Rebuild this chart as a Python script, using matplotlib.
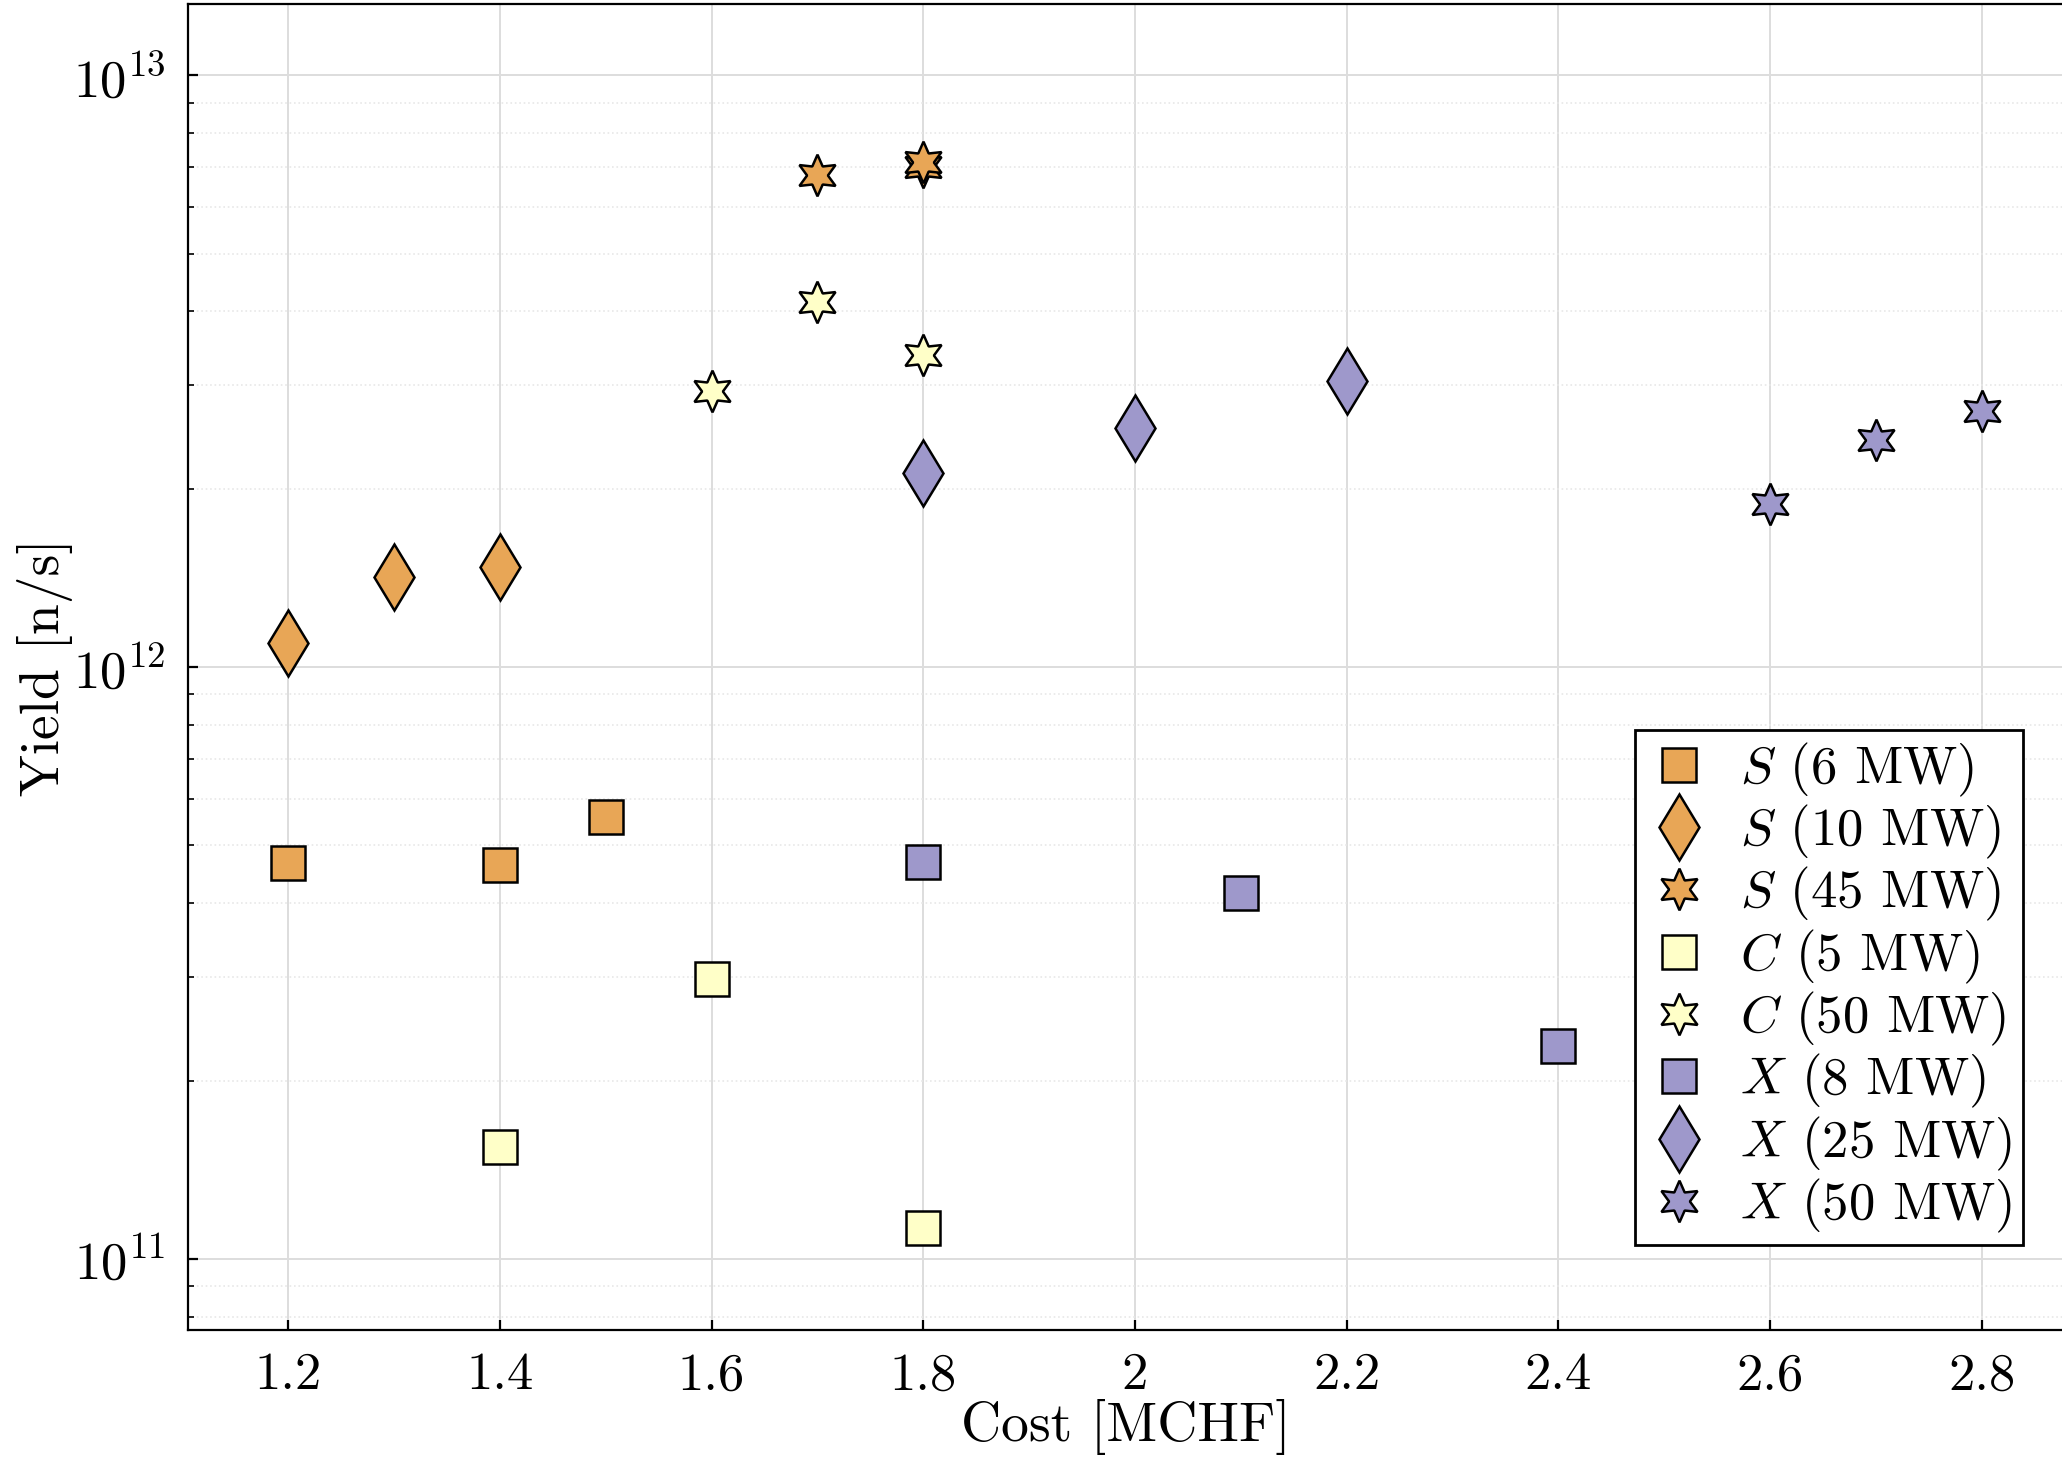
import matplotlib
matplotlib.use("Agg")
from matplotlib import pyplot as plt

plt.rcParams['font.family'] = 'serif'
plt.rcParams['font.serif'] = ['cmr10', 'DejaVu Serif']
plt.rcParams['mathtext.fontset'] = 'cm'
plt.rcParams['axes.formatter.use_mathtext'] = True

orange = '#E8A656'
pale = '#FFFFC8'
purple = '#9E98CB'
hexstar = (6, 1, 0)

s6_x = [1.2, 1.4, 1.5]
s6_y = [4.67e11, 4.64e11, 5.58e11]
s10_x = [1.2, 1.3, 1.4]
s10_y = [1.10e12, 1.42e12, 1.48e12]
s45_x = [1.7, 1.8, 1.8]
s45_y = [6.78e12, 7.0e12, 7.13e12]
c5_x = [1.4, 1.6, 1.8]
c5_y = [1.55e11, 2.97e11, 1.13e11]
c50_x = [1.6, 1.7, 1.8]
c50_y = [2.93e12, 4.15e12, 3.37e12]
x8_x = [1.8, 2.1, 2.4]
x8_y = [4.68e11, 4.15e11, 2.29e11]
x25_x = [1.8, 2.0, 2.2]
x25_y = [2.13e12, 2.54e12, 3.05e12]
x50_x = [2.6, 2.7, 2.8]
x50_y = [1.89e12, 2.42e12, 2.71e12]

series = [
    (s6_x, s6_y, 's', orange, 12, r'$S$ (6 MW)'),
    (s10_x, s10_y, 'd', orange, 17, r'$S$ (10 MW)'),
    (s45_x, s45_y, hexstar, orange, 15, r'$S$ (45 MW)'),
    (c5_x, c5_y, 's', pale, 12, r'$C$ (5 MW)'),
    (c50_x, c50_y, hexstar, pale, 15, r'$C$ (50 MW)'),
    (x8_x, x8_y, 's', purple, 12, r'$X$ (8 MW)'),
    (x25_x, x25_y, 'd', purple, 17, r'$X$ (25 MW)'),
    (x50_x, x50_y, hexstar, purple, 15, r'$X$ (50 MW)'),
]

fig = plt.figure(figsize=(10.31, 7.39), dpi=200)
ax = fig.add_axes([0.091, 0.1, 0.91, 0.897])
for xs, ys, m, c, ms, lab in series:
    ax.plot(xs, ys, linestyle='none', marker=m, markersize=ms, markerfacecolor=c,
            markeredgecolor='black', markeredgewidth=0.9, label=lab, zorder=3)

ax.set_yscale('log')
ax.set_xlim(1.105, 2.878)
ax.set_ylim(10**10.88, 10**13.12)
ax.set_xticks([1.2, 1.4, 1.6, 1.8, 2, 2.2, 2.4, 2.6, 2.8])
ax.set_xticklabels(['1.2', '1.4', '1.6', '1.8', '2', '2.2', '2.4', '2.6', '2.8'])
ax.grid(True, which='major', color='#dddddd', linewidth=0.7)
ax.grid(True, which='minor', axis='y', color='#e8e8e8', linewidth=0.6, linestyle=':')
ax.set_axisbelow(True)
ax.tick_params(labelsize=19, direction='in', which='both', pad=8)
ax.set_xlabel('Cost [MCHF]', fontsize=20, labelpad=0)
ax.set_ylabel('Yield [n/s]', fontsize=20, labelpad=0)
ax.legend(loc='lower right', fontsize=19, frameon=True, fancybox=False,
          edgecolor='black', framealpha=1, handletextpad=0.5, borderpad=0.2,
          labelspacing=0.08, handlelength=1.3, bbox_to_anchor=(0.992, 0.044))
fig.savefig('out.png')
